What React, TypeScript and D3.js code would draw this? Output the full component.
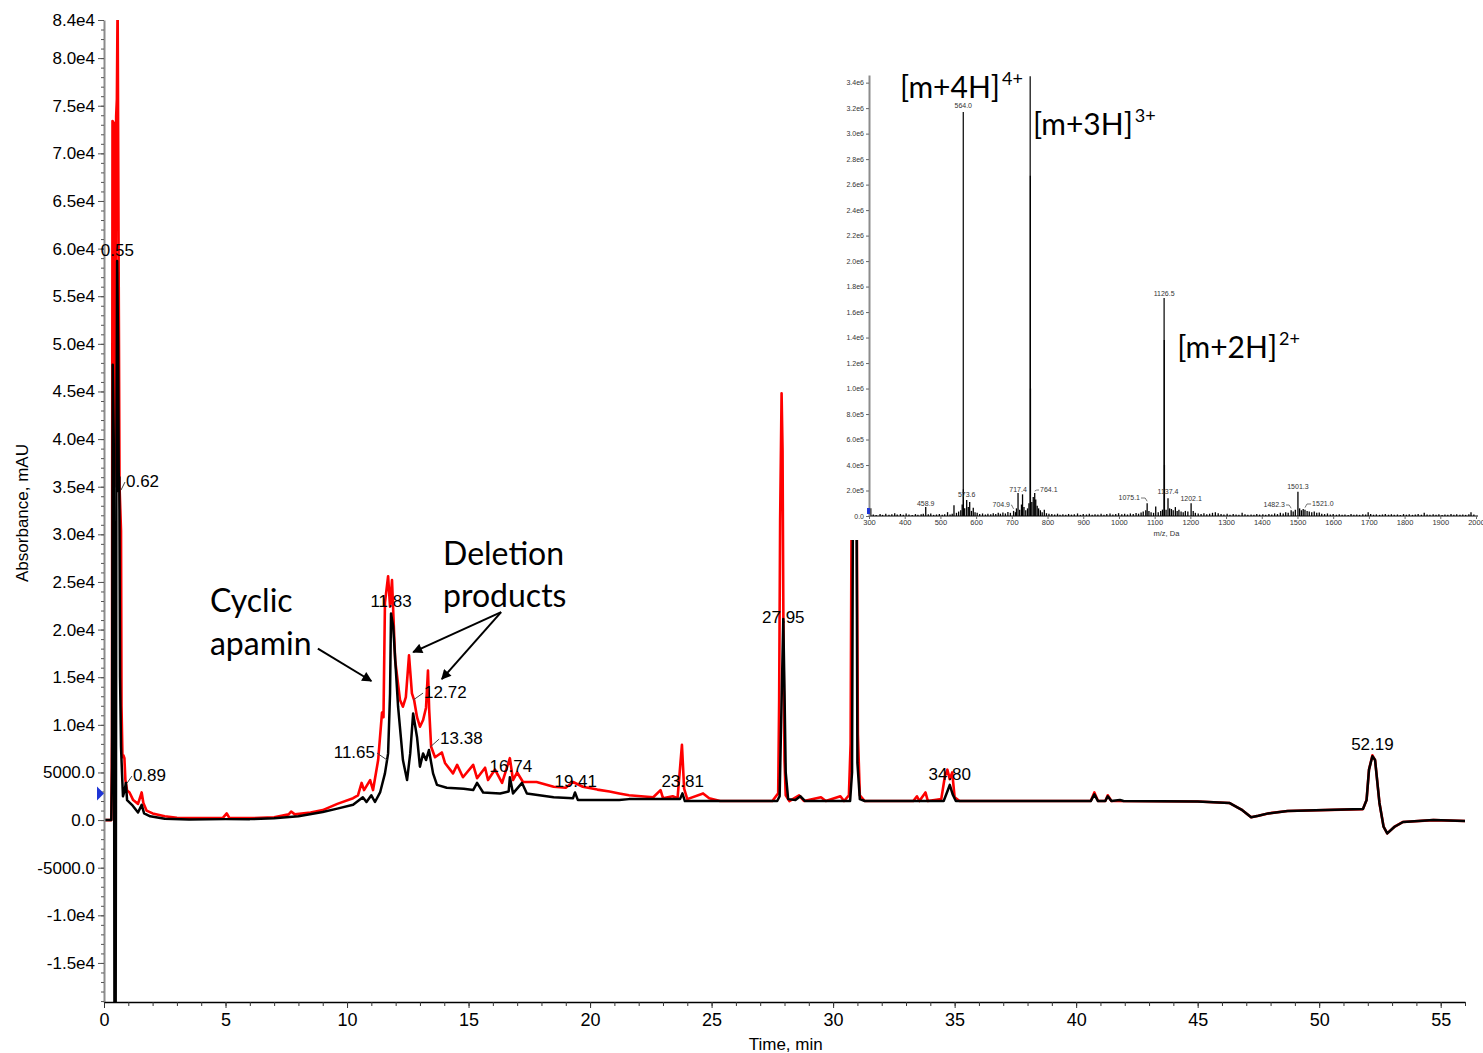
import * as d3 from "d3";
import React, { useRef, useEffect } from "react";

// UV trace, red: [time (min), absorbance (mAU)]
const redTrace: [number, number][] = [
  [0, 0], [0.3, 0], [0.33, 9000], [0.35, 73400], [0.4, 73200], [0.42, 35000], [0.47, 40000],
  [0.5, 73900], [0.53, 75700], [0.56, 86000], [0.6, 60000], [0.64, 35000], [0.7, 30400],
  [0.72, 12000], [0.76, 6600], [0.8, 6800], [0.84, 6500], [0.88, 4200], [0.95, 3100],
  [1.05, 2900], [1.2, 2100], [1.4, 1700], [1.55, 2900], [1.62, 1800], [1.75, 1000], [2.0, 700],
  [2.5, 400], [3.0, 250], [4.0, 200], [4.9, 250], [5.05, 700], [5.15, 250], [6.0, 200],
  [7.0, 300], [7.6, 600], [7.7, 900], [7.85, 600], [8.5, 800], [9.0, 1050], [9.6, 1700],
  [10.25, 2300], [10.45, 2600], [10.6, 3900], [10.7, 3150], [10.95, 4200], [11.07, 3150],
  [11.28, 6300], [11.44, 11300], [11.5, 10800], [11.56, 22800], [11.69, 25600], [11.77, 22400],
  [11.85, 25200], [11.98, 16800], [12.18, 12600], [12.3, 11900], [12.42, 12900], [12.55, 17300],
  [12.67, 13300], [12.76, 12600], [12.88, 10800], [13.0, 9800], [13.13, 10500], [13.25, 11800],
  [13.33, 15700], [13.38, 11600], [13.46, 7700], [13.62, 6600], [13.9, 7100], [14.03, 6000],
  [14.36, 4900], [14.53, 5800], [14.77, 4500], [15.19, 5800], [15.35, 4400], [15.68, 5500],
  [15.8, 4200], [16.09, 5300], [16.38, 3900], [16.7, 6500], [16.83, 4200], [17.0, 5000],
  [17.24, 4000], [17.8, 4000], [18.5, 3500], [19.0, 3400], [19.3, 4000], [19.7, 3500],
  [20.3, 3200], [20.8, 3000], [21.2, 2800], [21.6, 2600], [22.6, 2400], [22.9, 3150],
  [23.0, 2300], [23.4, 2500], [23.6, 2300], [23.78, 7900], [23.87, 3300], [24.0, 2200],
  [24.65, 2800], [24.9, 2300], [25.35, 2000], [27.5, 2000], [27.74, 2800], [27.78, 12600],
  [27.82, 31500], [27.88, 44800], [27.92, 38800], [27.96, 17900], [28.0, 6300], [28.05, 2600],
  [28.2, 2000], [28.6, 2600], [28.8, 2000], [29.5, 2400], [29.7, 2000], [30.3, 2500],
  [30.45, 2000], [30.65, 2600], [30.72, 8000], [30.78, 45000], [30.95, 45000], [31.02, 9000],
  [31.1, 2600], [31.3, 2000], [33.3, 2000], [33.45, 2500], [33.55, 2000], [33.8, 2900],
  [33.9, 2000], [34.45, 2200], [34.6, 4600], [34.7, 5300], [34.8, 4300], [34.9, 5000],
  [35.0, 2400], [35.2, 2000], [38.0, 2000], [40.6, 2000], [40.75, 2900], [40.9, 2000],
  [41.2, 2000], [41.3, 2600], [41.45, 2000], [45.0, 1950], [46.3, 1800], [46.8, 1100],
  [47.2, 300], [47.5, 450], [47.9, 700], [48.7, 950], [51.8, 1150], [51.95, 2100],
  [52.05, 5300], [52.19, 6800], [52.3, 6300], [52.48, 1800], [52.65, -700], [52.8, -1400],
  [53.1, -700], [53.45, -200], [54.7, 0], [56, -100],
];

// UV trace, black
const blackTrace: [number, number][] = [
  [0, 0], [0.3, 0], [0.33, 5500], [0.36, 47800], [0.4, 40000], [0.43, -20000], [0.48, -20000],
  [0.51, 35000], [0.54, 58700], [0.58, 50000], [0.61, 34500], [0.63, 36000], [0.66, 15000],
  [0.7, 7700], [0.74, 5000], [0.78, 2500], [0.84, 3000], [0.9, 3900], [0.95, 2100],
  [1.15, 1600], [1.4, 800], [1.55, 1600], [1.65, 700], [1.9, 400], [2.5, 150], [3.5, 50],
  [5, 100], [6, 100], [7, 200], [8, 400], [9, 850], [9.6, 1200], [10.25, 1600], [10.65, 2400],
  [10.8, 1900], [11.0, 2600], [11.15, 1900], [11.36, 2900], [11.56, 4900], [11.69, 7000],
  [11.77, 13300], [11.81, 21700], [11.9, 20300], [12.1, 11900], [12.3, 6300], [12.47, 4200],
  [12.6, 7000], [12.72, 11200], [12.88, 8700], [13.0, 5600], [13.13, 7000], [13.25, 6300],
  [13.37, 7350], [13.54, 4900], [13.7, 3700], [14.1, 3400], [14.8, 3300], [15.19, 3150],
  [15.35, 3900], [15.6, 2900], [16.3, 2800], [16.65, 3000], [16.7, 4500], [16.83, 2800],
  [17.2, 3900], [17.4, 2800], [18.5, 2400], [19.3, 2300], [19.38, 2900], [19.5, 2100],
  [21.2, 2100], [21.6, 2200], [23.7, 2200], [23.8, 2800], [23.9, 2000], [25.35, 2000],
  [27.7, 2000], [27.8, 2500], [27.86, 10000], [27.95, 21100], [28.0, 13500], [28.05, 5000],
  [28.15, 2200], [28.45, 2100], [28.65, 2500], [28.85, 2000], [30.7, 2000], [30.78, 5000],
  [30.83, 45000], [30.95, 45000], [31.0, 6000], [31.1, 2200], [31.3, 2000], [34.55, 2000],
  [34.7, 3000], [34.8, 3700], [34.92, 2700], [35.05, 2000], [40.6, 2000], [40.75, 2700],
  [40.9, 2000], [41.2, 2000], [41.3, 2500], [41.45, 2000], [41.8, 2100], [41.95, 2000],
  [45, 1950], [46.3, 1800], [46.8, 1100], [47.2, 300], [47.5, 450], [47.9, 700], [48.7, 950],
  [51.8, 1150], [51.95, 2100], [52.05, 5300], [52.19, 6700], [52.3, 6300], [52.48, 1800],
  [52.65, -700], [52.8, -1400], [53.1, -700], [53.45, -200], [54.7, 0], [56, -100],
];

// retention time labels sitting over their peak
const peakLabels = [
  { text: "0.55", t: 0.55, v: 58700 },
  { text: "11.83", t: 11.81, v: 21840 },
  { text: "16.74", t: 16.74, v: 4500 },
  { text: "19.41", t: 19.41, v: 2940 },
  { text: "23.81", t: 23.81, v: 2940 },
  { text: "27.95", t: 27.95, v: 20160 },
  { text: "34.80", t: 34.8, v: 3675 },
  { text: "52.19", t: 52.19, v: 6825 },
];

// labels with a leader line: peak (t, v) -> text baseline (tt, tv)
const leaderLabels = [
  { text: "0.62", t: 0.7, v: 34650, tt: 0.905, tv: 34965, anchor: "start" },
  { text: "0.89", t: 0.95, v: 3885, tt: 1.19, tv: 4095, anchor: "start" },
  { text: "11.65", t: 11.65, v: 6300, tt: 11.15, tv: 6510, anchor: "end" },
  { text: "12.72", t: 12.72, v: 12600, tt: 13.17, tv: 12810, anchor: "start" },
  { text: "13.38", t: 13.42, v: 7665, tt: 13.83, tv: 7980, anchor: "start" },
];

const xTicks = [0, 5, 10, 15, 20, 25, 30, 35, 40, 45, 50, 55];
const yTicks = [-15000, -10000, -5000, 0, 5000, 10000, 15000, 20000, 25000, 30000, 35000,
  40000, 45000, 50000, 55000, 60000, 65000, 70000, 75000, 80000, 84000];
const thresholdLevel = 2800;

// mass spectrum inset: [m/z, intensity]
const msPeaks: [number, number][] = [
  [564.0, 3170000], [564.3, 210000], [751.4, 3450000], [751.9, 2670000], [752.3, 1000000],
  [1126.5, 1710000], [1127.0, 1380000], [1127.5, 400000],
];
const msNoise: [number, number][] = [
  [305, 60000], [312, 12000], [320, 8000], [331, 15000], [338, 9000], [347, 18000], [356, 10000],
  [364, 14000], [372, 22000], [379, 11000], [388, 16000], [396, 9000], [404, 20000], [412, 12000],
  [421, 8000], [430, 15000], [437, 10000], [446, 13000], [452, 18000], [458.9, 70000],
  [466, 14000], [473, 20000], [481, 9000], [489, 12000], [497, 16000], [505, 10000],
  [512, 14000], [520, 30000], [527, 12000], [533, 18000], [538, 85000], [545, 25000],
  [551, 35000], [557, 45000], [561, 90000], [568, 60000], [573.6, 125000], [578, 70000],
  [582, 110000], [587, 40000], [592, 65000], [597, 30000], [603, 25000], [610, 15000],
  [618, 20000], [626, 12000], [633, 18000], [641, 14000], [648, 22000], [655, 16000],
  [662, 25000], [668, 18000], [675, 28000], [682, 20000], [689, 32000], [696, 25000],
  [704.9, 40000], [710, 30000], [713, 60000], [717.4, 180000], [722, 50000], [727, 90000],
  [730, 170000], [734, 70000], [739, 45000], [744, 60000], [748, 100000], [756, 110000],
  [760, 150000], [764.1, 180000], [767, 130000], [771, 80000], [775, 60000], [780, 45000],
  [785, 30000], [791, 50000], [797, 22000], [804, 18000], [812, 15000], [820, 12000],
  [828, 18000], [835, 10000], [843, 14000], [851, 9000], [859, 16000], [867, 11000],
  [875, 13000], [884, 20000], [892, 9000], [900, 15000], [909, 12000], [917, 18000],
  [925, 10000], [933, 14000], [941, 11000], [950, 17000], [958, 9000], [966, 15000],
  [975, 20000], [983, 12000], [991, 16000], [999, 22000], [1008, 14000], [1016, 18000],
  [1024, 12000], [1032, 20000], [1040, 15000], [1048, 24000], [1055, 18000], [1062, 28000],
  [1068, 35000], [1075.1, 45000], [1079, 100000], [1084, 40000], [1090, 30000], [1097, 25000],
  [1103, 75000], [1110, 30000], [1117, 40000], [1122, 50000], [1132, 50000], [1137.4, 140000],
  [1142, 60000], [1147, 55000], [1152, 45000], [1158, 70000], [1163, 40000], [1168, 50000],
  [1174, 35000], [1180, 30000], [1186, 40000], [1193, 35000], [1202.1, 100000], [1208, 40000],
  [1214, 25000], [1222, 20000], [1230, 15000], [1238, 22000], [1246, 14000], [1254, 18000],
  [1262, 25000], [1270, 30000], [1278, 22000], [1286, 16000], [1294, 12000], [1303, 18000],
  [1311, 10000], [1320, 15000], [1328, 12000], [1336, 9000], [1345, 25000], [1353, 14000],
  [1361, 10000], [1370, 12000], [1378, 9000], [1386, 15000], [1394, 11000], [1403, 13000],
  [1411, 9000], [1420, 16000], [1428, 12000], [1436, 20000], [1444, 15000], [1452, 25000],
  [1460, 20000], [1467, 30000], [1474, 25000], [1482.3, 45000], [1488, 35000], [1494, 50000],
  [1501.3, 190000], [1506, 60000], [1511, 45000], [1516, 55000], [1521.0, 50000], [1527, 40000],
  [1533, 35000], [1540, 30000], [1547, 35000], [1554, 25000], [1561, 28000], [1568, 18000],
  [1576, 15000], [1584, 20000], [1592, 12000], [1600, 16000], [1609, 10000], [1617, 14000],
  [1625, 9000], [1633, 12000], [1642, 8000], [1650, 15000], [1658, 10000], [1666, 12000],
  [1674, 9000], [1683, 14000], [1691, 11000], [1698, 30000], [1705, 15000], [1713, 10000],
  [1721, 13000], [1730, 9000], [1738, 12000], [1746, 16000], [1755, 10000], [1763, 14000],
  [1771, 9000], [1780, 12000], [1788, 8000], [1797, 15000], [1805, 10000], [1813, 13000],
  [1822, 9000], [1830, 12000], [1838, 16000], [1847, 10000], [1855, 25000], [1863, 12000],
  [1871, 9000], [1880, 14000], [1888, 10000], [1896, 13000], [1905, 8000], [1913, 12000],
  [1921, 10000], [1930, 15000], [1938, 9000], [1946, 13000], [1955, 10000], [1963, 12000],
  [1971, 9000], [1980, 14000], [1986, 30000], [1994, 12000],
];
const msLabels = [
  { text: "564.0", mz: 564.0, v: 3200000 },
  { text: "1126.5", mz: 1126.5, v: 1726000 },
  { text: "458.9", mz: 458.9, v: 78000 },
  { text: "573.6", mz: 573.6, v: 149000 },
  { text: "717.4", mz: 717.4, v: 188000 },
  { text: "1137.4", mz: 1137.4, v: 172600 },
  { text: "1202.1", mz: 1202.1, v: 117700 },
  { text: "1501.3", mz: 1501.3, v: 211800 },
];
const msLeaderLabels = [
  { text: "704.9", mz: 704.9, v: 40000, tmz: 695, tv: 70600, anchor: "end" },
  { text: "764.1", mz: 764.1, v: 180000, tmz: 779, tv: 188000, anchor: "start" },
  { text: "1075.1", mz: 1079, v: 100000, tmz: 1059, tv: 125500, anchor: "end" },
  { text: "1482.3", mz: 1482.3, v: 45000, tmz: 1465, tv: 70600, anchor: "end" },
  { text: "1521.0", mz: 1521.0, v: 50000, tmz: 1541, tv: 78500, anchor: "start" },
];
const msXTicks = [300, 400, 500, 600, 700, 800, 900, 1000, 1100, 1200, 1300, 1400, 1500,
  1600, 1700, 1800, 1900, 2000];
const msYTicks = [0, 200000, 400000, 600000, 800000, 1000000, 1200000, 1400000, 1600000,
  1800000, 2000000, 2200000, 2400000, 2600000, 2800000, 3000000, 3200000, 3400000];
const ionLabels = [
  { ion: "[m+4H]", charge: "4+", mz: 387, v: 3280000 },
  { ion: "[m+3H]", charge: "3+", mz: 759, v: 2990000 },
  { ion: "[m+2H]", charge: "2+", mz: 1163, v: 1240000 },
];

const TICK_FONT = "'Liberation Sans', Arial, sans-serif";
const NOTE_FONT = "Lato, 'Open Sans', sans-serif";

function App() {
  const ref = useRef<SVGSVGElement>(null);
  const width = 1483;
  const height = 1053;
  const margin = { top: 20, left: 104, right: 18, bottom: 51 };
  const innerWidth = width - margin.left - margin.right;
  const innerHeight = height - margin.top - margin.bottom;

  useEffect(() => {
    const svg = d3.select(ref.current);
    svg.selectAll("*").remove();

    const x = d3.scaleLinear().domain([0, 56]).range([0, innerWidth]);
    const y = d3.scaleLinear().domain([-19100, 84000]).range([innerHeight, 0]);

    const defs = svg.append("defs");
    defs.append("clipPath").attr("id", "plot-clip")
      .append("rect").attr("width", innerWidth).attr("height", innerHeight);
    defs.append("marker")
      .attr("id", "arrow")
      .attr("viewBox", "0 0 10 10")
      .attr("refX", 9).attr("refY", 5)
      .attr("markerWidth", 6).attr("markerHeight", 5)
      .attr("markerUnits", "strokeWidth")
      .attr("orient", "auto")
      .append("path").attr("d", "M0,0 L10,5 L0,10 z").attr("fill", "#000");

    const chart = svg.append("g").attr("transform", `translate(${margin.left},${margin.top})`);

    // traces
    const line = d3.line<[number, number]>().x((d) => x(d[0])).y((d) => y(d[1]));
    const traces = chart.append("g").attr("clip-path", "url(#plot-clip)");
    traces.append("path").datum(redTrace)
      .attr("d", line).attr("fill", "none").attr("stroke", "#ff0000")
      .attr("stroke-width", 2.6).attr("stroke-linejoin", "round");
    traces.append("path").datum(blackTrace)
      .attr("d", line).attr("fill", "none").attr("stroke", "#000")
      .attr("stroke-width", 2.5).attr("stroke-linejoin", "round");

    // y axis
    const yMinor = d3.range(-19000, 84001, 1000);
    const yAxisMinor = d3.axisLeft(y).tickValues(yMinor).tickSize(3).tickFormat(() => "").tickSizeOuter(0);
    chart.append("g").call(yAxisMinor)
      .call((g) => g.select(".domain").attr("stroke", "#8c8c8c").attr("stroke-width", 2))
      .call((g) => g.selectAll(".tick line").attr("stroke", "#555"));
    const yFormat = (v: number) =>
      v === 0 ? "0.0" : Math.abs(v) < 10000 ? v.toFixed(1) : (v / 10000).toFixed(1) + "e4";
    const yAxis = d3.axisLeft(y).tickValues(yTicks).tickSize(6).tickPadding(3)
      .tickFormat((d) => yFormat(+d)).tickSizeOuter(0);
    chart.append("g").call(yAxis)
      .call((g) => g.select(".domain").remove())
      .call((g) => g.selectAll(".tick line").attr("stroke", "#555"))
      .call((g) => g.selectAll(".tick text")
        .attr("fill", "#000").style("font-family", TICK_FONT).style("font-size", "17px"));

    // x axis
    const xMinor = d3.range(0, 57, 1);
    chart.append("g").attr("transform", `translate(0,${innerHeight})`)
      .call(d3.axisBottom(x).tickValues(xMinor).tickSize(4).tickFormat(() => "").tickSizeOuter(0))
      .call((g) => g.select(".domain").attr("stroke", "#000").attr("stroke-width", 1.5))
      .call((g) => g.selectAll(".tick line").attr("stroke", "#333"));
    chart.append("g").attr("transform", `translate(0,${innerHeight})`)
      .call(d3.axisBottom(x).tickValues(xTicks).tickSize(6).tickPadding(5).tickSizeOuter(0))
      .call((g) => g.select(".domain").remove())
      .call((g) => g.selectAll(".tick line").attr("stroke", "#333"))
      .call((g) => g.selectAll(".tick text")
        .attr("fill", "#000").style("font-family", TICK_FONT).style("font-size", "18px"));

    // axis titles
    chart.append("text")
      .attr("transform", `translate(-76,${innerHeight / 2 + 2}) rotate(-90)`)
      .attr("text-anchor", "middle")
      .style("font-family", TICK_FONT).style("font-size", "17px")
      .text("Absorbance, mAU");
    chart.append("text")
      .attr("x", x(28.05)).attr("y", innerHeight + 48)
      .attr("text-anchor", "middle")
      .style("font-family", TICK_FONT).style("font-size", "17px")
      .text("Time, min");

    // threshold marker on the y axis
    const ty = y(thresholdLevel);
    chart.append("path")
      .attr("d", `M-7,${ty - 7} L0,${ty} L-7,${ty + 7} Z`)
      .attr("fill", "#1f35d6");

    // peak labels
    chart.selectAll(".peak-label").data(peakLabels).join("text")
      .attr("class", "peak-label")
      .attr("x", (d) => x(d.t)).attr("y", (d) => y(d.v) - 5)
      .attr("text-anchor", "middle")
      .style("font-family", TICK_FONT).style("font-size", "17px")
      .text((d) => d.text);
    chart.selectAll(".leader").data(leaderLabels).join("line")
      .attr("class", "leader")
      .attr("x1", (d) => x(d.t)).attr("y1", (d) => y(d.v))
      .attr("x2", (d) => x(d.tt) + (d.anchor === "start" ? -1 : 2))
      .attr("y2", (d) => y(d.tv) - 5)
      .attr("stroke", "#444").attr("stroke-width", 1);
    chart.selectAll(".leader-label").data(leaderLabels).join("text")
      .attr("class", "leader-label")
      .attr("x", (d) => x(d.tt)).attr("y", (d) => y(d.tv))
      .attr("text-anchor", (d) => d.anchor)
      .style("font-family", TICK_FONT).style("font-size", "17px")
      .text((d) => d.text);

    // annotations
    const note = (txt: string, t: number, v: number) =>
      chart.append("text").attr("x", x(t)).attr("y", y(v))
        .style("font-family", NOTE_FONT).style("font-size", "32px").attr("fill", "#000")
        .text(txt);
    note("Cyclic", 4.36, 21840);
    note("apamin", 4.36, 17325);
    note("Deletion", 13.95, 26775);
    note("products", 13.95, 22365);
    const arrow = (t1: number, v1: number, t2: number, v2: number) =>
      chart.append("line")
        .attr("x1", x(t1)).attr("y1", y(v1)).attr("x2", x(t2)).attr("y2", y(v2))
        .attr("stroke", "#000").attr("stroke-width", 2)
        .attr("marker-end", "url(#arrow)");
    arrow(8.8, 18000, 11.0, 14600);
    arrow(16.34, 21840, 12.72, 17640);
    arrow(16.34, 21840, 13.9, 14800);

    // ---------- mass spectrum inset ----------
    const inset = { left: 869, top: 75, width: 607, height: 441 };
    svg.append("rect")
      .attr("x", 840).attr("y", 70).attr("width", width - 840).attr("height", 470)
      .attr("fill", "#fff");
    const ms = svg.append("g").attr("transform", `translate(${inset.left},${inset.top})`);
    const mx = d3.scaleLinear().domain([300, 2000]).range([0, inset.width]);
    const my = d3.scaleLinear().domain([0, 3460000]).range([inset.height, 0]);

    ms.append("line")
      .attr("x1", 0).attr("x2", inset.width + 2).attr("y1", inset.height).attr("y2", inset.height)
      .attr("stroke", "#000").attr("stroke-width", 1);
    ms.selectAll(".ms-noise").data(msNoise).join("line")
      .attr("class", "ms-noise")
      .attr("x1", (d) => mx(d[0])).attr("x2", (d) => mx(d[0]))
      .attr("y1", inset.height).attr("y2", (d) => my(d[1]))
      .attr("stroke", "#000").attr("stroke-width", 1.3);
    ms.selectAll(".ms-peak").data(msPeaks).join("line")
      .attr("class", "ms-peak")
      .attr("x1", (d) => mx(d[0])).attr("x2", (d) => mx(d[0]))
      .attr("y1", inset.height).attr("y2", (d) => my(d[1]))
      .attr("stroke", "#000").attr("stroke-width", 1.2);

    const msYFormat = (v: number) =>
      v === 0 ? "0.0" : v < 1000000 ? (v / 100000).toFixed(1) + "e5" : (v / 1000000).toFixed(1) + "e6";
    ms.append("g")
      .call(d3.axisLeft(my).tickValues(msYTicks).tickSize(3).tickPadding(2)
        .tickFormat((d) => msYFormat(+d)).tickSizeOuter(0))
      .call((g) => g.select(".domain").attr("stroke", "#8c8c8c").attr("stroke-width", 2))
      .call((g) => g.selectAll(".tick line").attr("stroke", "#666"))
      .call((g) => g.selectAll(".tick text")
        .attr("fill", "#333").style("font-family", TICK_FONT).style("font-size", "7px"));
    ms.append("g").attr("transform", `translate(0,${inset.height})`)
      .call(d3.axisBottom(mx).tickValues(msXTicks).tickSize(3).tickPadding(1)
        .tickFormat((d) => String(d)).tickSizeOuter(0))
      .call((g) => g.select(".domain").remove())
      .call((g) => g.selectAll(".tick line").attr("stroke", "#666"))
      .call((g) => g.selectAll(".tick text")
        .attr("fill", "#333").style("font-family", TICK_FONT).style("font-size", "7.5px"));
    ms.append("text")
      .attr("x", mx(1133)).attr("y", inset.height + 20)
      .attr("text-anchor", "middle").attr("fill", "#333")
      .style("font-family", TICK_FONT).style("font-size", "7.5px")
      .text("m/z, Da");
    ms.append("rect")
      .attr("x", -2).attr("y", inset.height - 8).attr("width", 3).attr("height", 6)
      .attr("fill", "#1f35d6");

    ms.selectAll(".ms-label").data(msLabels).join("text")
      .attr("class", "ms-label")
      .attr("x", (d) => mx(d.mz)).attr("y", (d) => my(d.v))
      .attr("text-anchor", "middle").attr("fill", "#333")
      .style("font-family", TICK_FONT).style("font-size", "7px")
      .text((d) => d.text);
    ms.selectAll(".ms-leader").data(msLeaderLabels).join("path")
      .attr("class", "ms-leader")
      .attr("d", (d) => {
        const x0 = mx(d.tmz) + (d.anchor === "end" ? 1 : -1);
        const y0 = my(d.tv) - 2;
        return `M${x0},${y0} L${mx(d.mz) + (d.anchor === "end" ? -2 : 2)},${y0} L${mx(d.mz)},${my(d.v) - 2}`;
      })
      .attr("fill", "none").attr("stroke", "#555").attr("stroke-width", 0.8);
    ms.selectAll(".ms-leader-label").data(msLeaderLabels).join("text")
      .attr("class", "ms-leader-label")
      .attr("x", (d) => mx(d.tmz)).attr("y", (d) => my(d.tv))
      .attr("text-anchor", (d) => d.anchor).attr("fill", "#333")
      .style("font-family", TICK_FONT).style("font-size", "7px")
      .text((d) => d.text);

    const ions = ms.selectAll(".ion").data(ionLabels).join("text")
      .attr("class", "ion")
      .attr("x", (d) => mx(d.mz)).attr("y", (d) => my(d.v))
      .style("font-family", NOTE_FONT).style("font-size", "30px").attr("fill", "#000");
    ions.append("tspan").text((d) => d.ion);
    ions.append("tspan").attr("dx", 2).attr("dy", -13).style("font-size", "18px").text((d) => d.charge);
  }, []); // eslint-disable-line react-hooks/exhaustive-deps

  return (
    <div className="chart">
      <svg
        ref={ref}
        width={width}
        height={height}
        style={{ position: "absolute", left: 0, top: 0, background: "#fff" }}
      ></svg>
    </div>
  );
}

export default App;
